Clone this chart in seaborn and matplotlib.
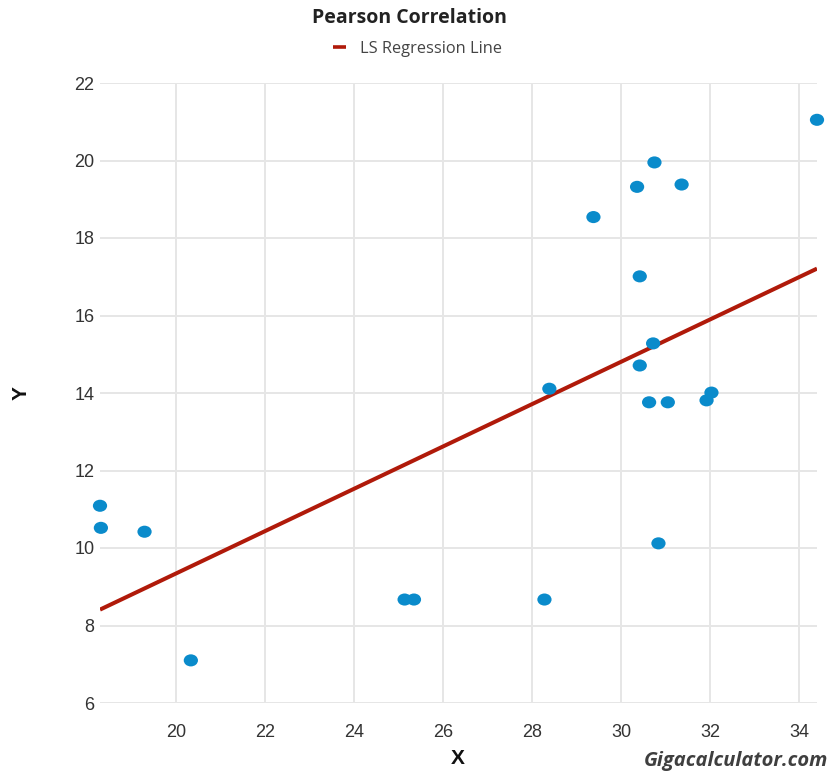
import numpy as np
import pandas as pd
import matplotlib
matplotlib.use("Agg")
import matplotlib.pyplot as plt
from matplotlib.path import Path
from matplotlib.markers import MarkerStyle
from matplotlib.lines import Line2D
from matplotlib.transforms import Affine2D
import seaborn as sns

# Observations
x_values = [18.30, 18.32, 19.30, 20.34, 25.14, 25.35, 28.28, 28.39, 29.38, 30.36, 30.75,
            31.36, 30.42, 30.72, 30.42, 30.63, 31.05, 30.84, 32.03, 31.92, 34.40]
y_values = [11.09, 10.52, 10.42, 7.10, 8.67, 8.67, 8.67, 14.11, 18.54, 19.32, 19.95,
            19.38, 17.01, 15.28, 14.71, 13.76, 13.76, 10.12, 14.01, 13.81, 21.05]

# Least-squares regression line coefficients
ls_slope = 0.5466
ls_intercept = -1.593

x_ticks = [20, 22, 24, 26, 28, 30, 32, 34]
y_ticks = [6, 8, 10, 12, 14, 16, 18, 20, 22]

df = pd.DataFrame({"X": x_values, "Y": y_values})
x_line = np.array([min(x_values), max(x_values)])
line_df = pd.DataFrame({"X": x_line, "Y": ls_intercept + ls_slope * x_line})

sns.set_theme(style="white")
plt.rcParams["font.family"] = ["Liberation Sans", "DejaVu Sans"]

W, H = 830, 771
fig = plt.figure(figsize=(W / 100, H / 100), dpi=100)
ax = fig.add_axes([100 / W, 1 - 703 / H, 717 / W, 620 / H])

point_color = "#0a8bcb"
line_color = "#b01a0a"

# Slightly flattened dot marker
ellipse = Path.unit_circle().transformed(Affine2D().scale(1.0, 0.85))
dot = MarkerStyle(ellipse)

sns.lineplot(data=line_df, x="X", y="Y", color=line_color, linewidth=2.9,
             ax=ax, zorder=2, solid_capstyle="butt")
sns.scatterplot(data=df, x="X", y="Y", marker=dot, s=105, color=point_color,
                edgecolor="none", linewidth=0, ax=ax, zorder=3, clip_on=False)

ax.set_xlim(min(x_values), max(x_values))
ax.set_ylim(6, 22)
ax.set_xticks(x_ticks)
ax.set_yticks(y_ticks)
ax.grid(True, color="#e6e6e6", linewidth=1.4)
ax.set_axisbelow(True)
for sp in ax.spines.values():
    sp.set_visible(False)
ax.tick_params(axis="both", length=0, labelsize=13, labelcolor="#333333")
ax.tick_params(axis="x", pad=15)
ax.tick_params(axis="y", pad=4)
ax.set_xlabel("")
ax.set_ylabel("")

# Title and legend
fig.text(409 / W, 1 - 18 / H, "Pearson Correlation", ha="center", va="center",
         fontsize=14, fontweight="bold", color="#222222", family=["Open Sans", "DejaVu Sans"])
fig.add_artist(Line2D([333 / W, 346 / W], [1 - 47 / H, 1 - 47 / H],
                      transform=fig.transFigure, color=line_color, linewidth=2.6,
                      solid_capstyle="butt"))
fig.text(360 / W, 1 - 49 / H, "LS Regression Line", ha="left", va="center",
         fontsize=11.8, color="#444444", family=["Open Sans", "DejaVu Sans"])

# Axis labels
fig.text(458 / W, 1 - 758 / H, "X", ha="center", va="center",
         fontsize=15, fontweight="bold", color="#111111")
fig.text(21.5 / W, 1 - 392.5 / H, "Y", ha="center", va="center", rotation=90,
         fontsize=15, fontweight="bold", color="#111111")

# Site credit
fig.text(828 / W, 1 - 761 / H, "Gigacalculator.com", ha="right", va="center",
         fontsize=14.5, fontweight="bold", fontstyle="italic", color="#3f3f3f",
         family=["Open Sans", "DejaVu Sans"])

fig.savefig("out.png", dpi=100, facecolor="white")
